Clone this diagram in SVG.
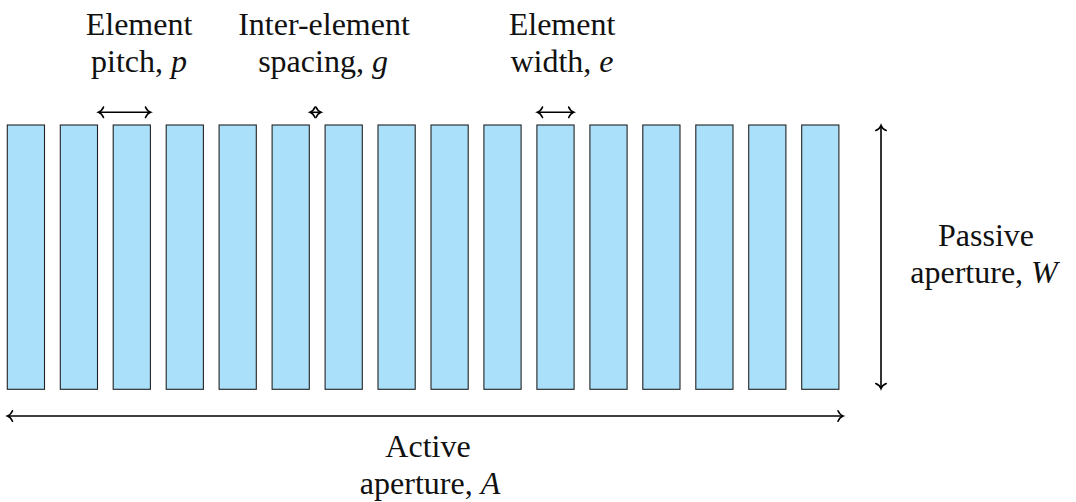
<svg xmlns="http://www.w3.org/2000/svg" width="1076" height="502" viewBox="0 0 1076 502">
<style>
.el{fill:#ABE0FA;stroke:#222;stroke-width:1.1}
.lbl{font-family:'Liberation Serif','Times New Roman',serif;font-size:32px;fill:#111;text-anchor:middle}
.it{font-style:italic}
.arr{stroke:#000;stroke-width:1.6;fill:none;marker-start:url(#tip);marker-end:url(#tip)}
</style>
<defs>
<marker id="tip" markerUnits="userSpaceOnUse" markerWidth="14" markerHeight="14" refX="0" refY="0" orient="auto-start-reverse" overflow="visible">
<path d="M-5,-5.2 C-3.6,-2 -1.4,-0.5 0,0 C-1.4,0.5 -3.6,2 -5,5.2" fill="none" stroke="#000" stroke-width="1.6" stroke-linecap="round"/>
</marker>
</defs>
<rect width="1076" height="502" fill="#fff"/>
<g id="elements">
<g id="el1"><rect class="el" x="7.3" y="125" width="37.2" height="264.3"/></g>
<g id="el2"><rect class="el" x="60.3" y="125" width="37.2" height="264.3"/></g>
<g id="el3"><rect class="el" x="113.2" y="125" width="37.2" height="264.3"/></g>
<g id="el4"><rect class="el" x="166.2" y="125" width="37.2" height="264.3"/></g>
<g id="el5"><rect class="el" x="219.1" y="125" width="37.2" height="264.3"/></g>
<g id="el6"><rect class="el" x="272.1" y="125" width="37.2" height="264.3"/></g>
<g id="el7"><rect class="el" x="325.1" y="125" width="37.2" height="264.3"/></g>
<g id="el8"><rect class="el" x="378.0" y="125" width="37.2" height="264.3"/></g>
<g id="el9"><rect class="el" x="431.0" y="125" width="37.2" height="264.3"/></g>
<g id="el10"><rect class="el" x="483.9" y="125" width="37.2" height="264.3"/></g>
<g id="el11"><rect class="el" x="536.9" y="125" width="37.2" height="264.3"/></g>
<g id="el12"><rect class="el" x="589.9" y="125" width="37.2" height="264.3"/></g>
<g id="el13"><rect class="el" x="642.8" y="125" width="37.2" height="264.3"/></g>
<g id="el14"><rect class="el" x="695.8" y="125" width="37.2" height="264.3"/></g>
<g id="el15"><rect class="el" x="748.7" y="125" width="37.2" height="264.3"/></g>
<g id="el16"><rect class="el" x="801.7" y="125" width="37.2" height="264.3"/></g>
</g>
<g id="connectors">
<line class="arr" x1="98.5" y1="112.3" x2="150.5" y2="112.3"/>
<line class="arr" x1="310" y1="112.3" x2="321" y2="112.3"/>
<line class="arr" x1="537.5" y1="112.3" x2="573.7" y2="112.3"/>
<line class="arr" x1="881" y1="125.5" x2="881" y2="388.5"/>
<line class="arr" x1="7.5" y1="416" x2="843" y2="416"/>
</g>
<g id="label-pitch"><text class="lbl" x="139" y="34.5">Element</text><text class="lbl" x="139" y="71.5">pitch, <tspan class="it">p</tspan></text></g>
<g id="label-spacing"><text class="lbl" x="324" y="34.5">Inter-element</text><text class="lbl" x="323" y="71.5">spacing, <tspan class="it">g</tspan></text></g>
<g id="label-width"><text class="lbl" x="562" y="34.5">Element</text><text class="lbl" x="562" y="71.5">width, <tspan class="it">e</tspan></text></g>
<g id="label-passive"><text class="lbl" x="986" y="246">Passive</text><text class="lbl" x="984" y="283.3">aperture, <tspan class="it">W</tspan></text></g>
<g id="label-active"><text class="lbl" x="428" y="457">Active</text><text class="lbl" x="430" y="494">aperture, <tspan class="it">A</tspan></text></g>
</svg>
